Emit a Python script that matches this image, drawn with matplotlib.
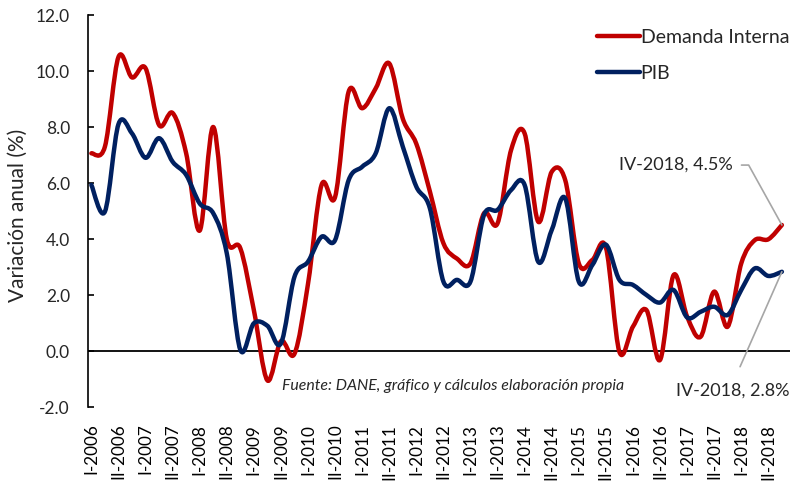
import matplotlib
matplotlib.use("Agg")
import matplotlib.pyplot as plt
from matplotlib.path import Path
from matplotlib.patches import PathPatch
from matplotlib.lines import Line2D
import numpy as np

plt.rcParams['font.family'] = ['Lato', 'DejaVu Sans']

# quarterly data I-2006 .. IV-2018
demanda_interna = [7.06, 7.3, 10.5, 9.77, 10.1, 8.07, 8.5, 7.06, 4.3, 8.0,
                   4.0, 3.67, 1.46, -1.05, 0.35, -0.1, 2.4, 5.93, 5.5, 9.26,
                   8.67, 9.38, 10.27, 8.3, 7.4, 5.7, 3.85, 3.3, 3.13, 4.92,
                   4.56, 7.18, 7.77, 4.62, 6.4, 6.1, 3.13, 3.25, 3.7, -0.03,
                   0.87, 1.46, -0.32, 2.71, 1.23, 0.51, 2.12, 0.87, 3.13, 3.96,
                   3.99, 4.5]
pib = [5.93, 4.98, 8.1, 7.77, 6.9, 7.6, 6.76, 6.29, 5.27, 4.92,
       3.49, 0.04, 0.99, 0.9, 0.27, 2.65, 3.19, 4.08, 3.96, 6.1,
       6.58, 7.06, 8.67, 7.3, 5.87, 5.1, 2.48, 2.54, 2.48, 4.86,
       5.04, 5.75, 5.93, 3.19, 4.32, 5.45, 2.48, 3.07, 3.8, 2.54,
       2.36, 2.0, 1.73, 2.18, 1.2, 1.4, 1.58, 1.29, 2.18, 2.95,
       2.68, 2.83]
tick_labels = []
for yr in range(2006, 2019):
    tick_labels += [f"I-{yr}", f"II-{yr}"]

series_names = ["Demanda Interna", "PIB"]
colors = ["#C00000", "#002060"]


def smooth_path(x, y, t=1.0 / 6.0):
    x = np.asarray(x, float)
    y = np.asarray(y, float)
    pts = np.column_stack([x, y])
    n = len(pts)
    verts = [pts[0]]
    codes = [Path.MOVETO]
    for i in range(n - 1):
        p0 = pts[i - 1] if i > 0 else pts[i]
        p1 = pts[i]
        p2 = pts[i + 1]
        p3 = pts[i + 2] if i + 2 < n else pts[i + 1]
        c1 = p1 + (p2 - p0) * t
        c2 = p2 - (p3 - p1) * t
        verts += [c1, c2, p2]
        codes += [Path.CURVE4] * 3
    return Path(verts, codes)


fig = plt.figure(figsize=(7.92, 4.83), dpi=100)
ax = fig.add_axes([88 / 792, 1 - 407 / 483, 702 / 792, 392 / 483])

x = np.arange(len(pib))
for vals, col in zip([demanda_interna, pib], colors):
    patch = PathPatch(smooth_path(x, vals), fill=False, edgecolor=col,
                      linewidth=3.2, capstyle='round', joinstyle='round', zorder=3)
    ax.add_patch(patch)

ax.set_xlim(-0.25, 51.6)
ax.set_ylim(-2, 12)
ax.axhline(0, color='black', linewidth=1.3, zorder=2)

ax.set_yticks(np.arange(-2, 12.1, 2))
ax.set_yticklabels([f"{v:.1f}" for v in np.arange(-2, 12.1, 2)])
ax.set_xticks(x[::2])
ax.set_xticklabels(tick_labels, rotation=90)

for s in ['top', 'right', 'bottom']:
    ax.spines[s].set_visible(False)
ax.spines['left'].set_linewidth(1.2)
ax.tick_params(axis='y', direction='in', length=4, width=1.2, pad=13,
               labelsize=12.5, colors='black', labelcolor='#262626')
ax.tick_params(axis='x', length=0, pad=12, labelsize=12.3, labelcolor='black')

ax.set_ylabel("Variación anual (%)", fontsize=15, color='#262626')
ax.yaxis.set_label_coords(-0.085, 0.49)

handles = [Line2D([], [], color=c, linewidth=3.2, solid_capstyle='round') for c in colors]
leg = ax.legend(handles, series_names, loc='upper left', bbox_to_anchor=(0.70, 1.01),
                frameon=False, fontsize=14, handlelength=2.2, handletextpad=0.05,
                labelspacing=1.0)
for t in leg.get_texts():
    t.set_color('#262626')

ax.annotate("IV-2018, 4.5%", xy=(x[-1], demanda_interna[-1]), xytext=(39.0, 6.64),
            fontsize=13, color='#262626', ha='left', va='center',
            arrowprops=dict(arrowstyle='-', color='#A6A6A6', lw=1.2,
                            relpos=(1.0, 0.5), shrinkA=4, shrinkB=0,
                            connectionstyle='angle,angleA=0,angleB=119,rad=0'))
ax.annotate("IV-2018, 2.8%", xy=(x[-1], pib[-1]), xytext=(51.6, -1.4),
            fontsize=13, color='#262626', ha='right', va='center',
            arrowprops=dict(arrowstyle='-', color='#A6A6A6', lw=1.2,
                            relpos=(0.5, 1.0), shrinkA=10, shrinkB=0))

ax.text(14.1, -1.25, "Fuente: DANE, gráfico y cálculos elaboración propia",
        fontsize=11.4, style='italic', color='#262626', ha='left', va='center')

fig.savefig("out.png", dpi=100)
